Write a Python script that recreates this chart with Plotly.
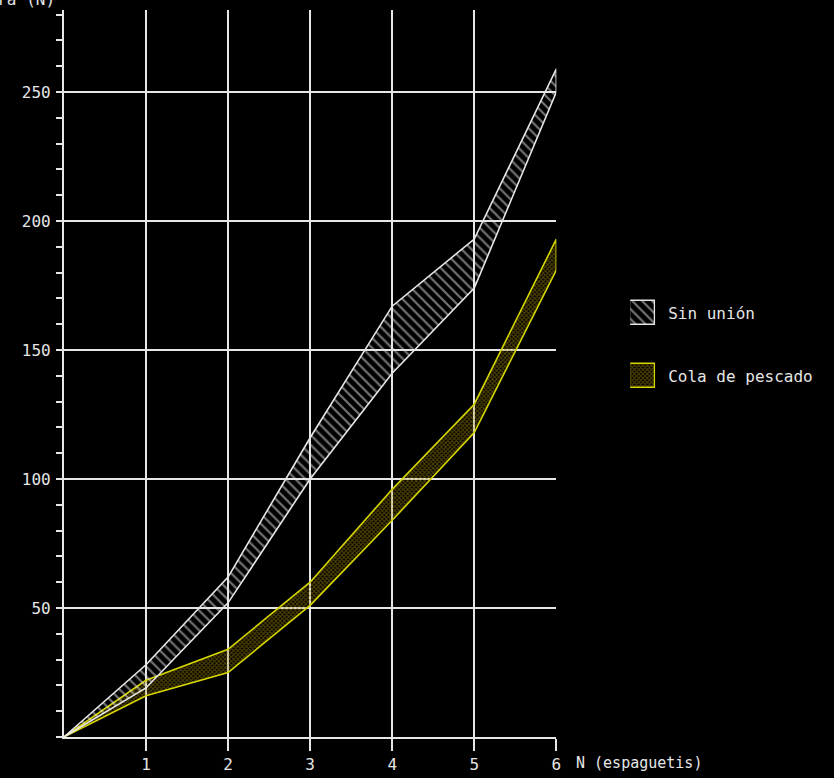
import plotly.graph_objects as go

# Número de espaguetis
n_espaguetis = [0, 1, 2, 3, 4, 5, 6]

# Carga de rotura (N): límites superior e inferior de cada ensayo
sin_union_max = [0, 28, 62, 116, 167, 193, 259]
sin_union_min = [0, 19, 52, 100, 141, 174, 250]
cola_max = [0, 22, 34, 60, 96, 129, 193]
cola_min = [0, 16, 25, 51, 84, 118, 181]

series_names = ["Sin unión", "Cola de pescado"]
x_ticks = [1, 2, 3, 4, 5, 6]
y_ticks = [50, 100, 150, 200, 250]

W, H = 834, 778
WX = 830  # horizontal span used to place the axis domains
FONT = "DejaVu Sans Mono"
WHITE = "#e6e6e6"
YELLOW = "#d6d600"
OLIVE = "#9a8200"

# plot area in pixels
PX0, PX1 = 64, 557
PY_TOP, PY_BOT = 10, 737


def band(lo, hi):
    """Closed polygon between lower and upper limits."""
    xs = n_espaguetis + n_espaguetis[::-1]
    ys = hi + lo[::-1]
    return xs, ys


fig = go.Figure()

xs, ys = band(cola_min, cola_max)
fig.add_trace(go.Scatter(
    x=xs, y=ys, mode="lines", fill="toself",
    fillcolor="rgba(0,0,0,0)",
    fillpattern=dict(shape="x", fgcolor=OLIVE, bgcolor="rgba(0,0,0,0)",
                     size=3, solidity=0.6),
    line=dict(color=YELLOW, width=1.6),
    name=series_names[1], showlegend=False, hoverinfo="skip",
))

xs, ys = band(sin_union_min, sin_union_max)
fig.add_trace(go.Scatter(
    x=xs, y=ys, mode="lines", fill="toself",
    fillcolor="rgba(0,0,0,0)",
    fillpattern=dict(shape="\\", fgcolor=WHITE, bgcolor="rgba(0,0,0,0)",
                     size=7, solidity=0.32),
    line=dict(color=WHITE, width=1.6),
    name=series_names[0], showlegend=False, hoverinfo="skip",
))

# legend swatches drawn as bars on a small inset axis
fig.add_trace(go.Bar(
    y=[series_names[0]], x=[1], orientation="h", width=0.38,
    marker=dict(color="rgba(0,0,0,0)",
                line=dict(color=WHITE, width=1.5),
                pattern=dict(shape="\\", fgcolor=WHITE, bgcolor="rgba(0,0,0,0)",
                             size=7, solidity=0.32)),
    xaxis="x2", yaxis="y2", showlegend=False, hoverinfo="skip",
))
fig.add_trace(go.Bar(
    y=[series_names[1]], x=[1], orientation="h", width=0.38,
    marker=dict(color="rgba(0,0,0,0)",
                line=dict(color=YELLOW, width=1.5),
                pattern=dict(shape="x", fgcolor=OLIVE, bgcolor="rgba(0,0,0,0)",
                             size=3, solidity=0.6)),
    xaxis="x2", yaxis="y2", showlegend=False, hoverinfo="skip",
))

axis_font = dict(family=FONT, size=16, color=WHITE)

fig.update_layout(
    width=W, height=H,
    margin=dict(l=0, r=0, t=0, b=0),
    paper_bgcolor="black", plot_bgcolor="black",
    font=axis_font,
    showlegend=False,
    xaxis=dict(
        domain=[PX0 / WX, PX1 / WX],
        range=[0, 6],
        tickmode="array", tickvals=x_ticks,
        ticks="outside", ticklen=12, tickwidth=2, tickcolor=WHITE,
        showgrid=True, gridcolor=WHITE, gridwidth=1.6,
        showline=True, linecolor=WHITE, linewidth=2,
        zeroline=False, tickfont=axis_font,
        anchor="y",
    ),
    yaxis=dict(
        domain=[(H - PY_BOT) / H, (H - PY_TOP) / H],
        range=[0, 281.8],
        tickmode="array", tickvals=y_ticks,
        ticks="outside", ticklen=6, tickwidth=2, tickcolor=WHITE,
        minor=dict(tickmode="linear", tick0=0, dtick=10, ticks="outside",
                   ticklen=6, tickwidth=2, tickcolor=WHITE, showgrid=False),
        showgrid=True, gridcolor=WHITE, gridwidth=1.6,
        showline=True, linecolor=WHITE, linewidth=2,
        zeroline=False, tickfont=axis_font, ticklabelstandoff=2,
        anchor="x",
    ),
    xaxis2=dict(
        domain=[631 / WX, 656 / WX], range=[0, 1], anchor="y2",
        visible=False, fixedrange=True,
    ),
    yaxis2=dict(
        domain=[(H - 400) / H, (H - 289) / H],
        type="category",
        categoryorder="array", categoryarray=[series_names[1], series_names[0]],
        range=[-0.381, 1.381],
        anchor="x2", side="right",
        showgrid=False, showline=False, zeroline=False, ticks="",
        tickfont=axis_font, ticklabelstandoff=12, fixedrange=True,
    ),
    bargap=0,
)

fig.add_annotation(
    text="N (espaguetis)", xref="paper", yref="paper",
    x=577 / W, y=(H - 763) / H, xanchor="left", yanchor="middle",
    showarrow=False, font=dict(family=FONT, size=15, color=WHITE),
)
fig.add_annotation(
    text="Carga de rotura (N)", xref="paper", yref="paper",
    x=57 / W, y=(H + 1) / H, xanchor="right", yanchor="middle",
    showarrow=False, font=axis_font,
)

fig.write_html("out.html")
